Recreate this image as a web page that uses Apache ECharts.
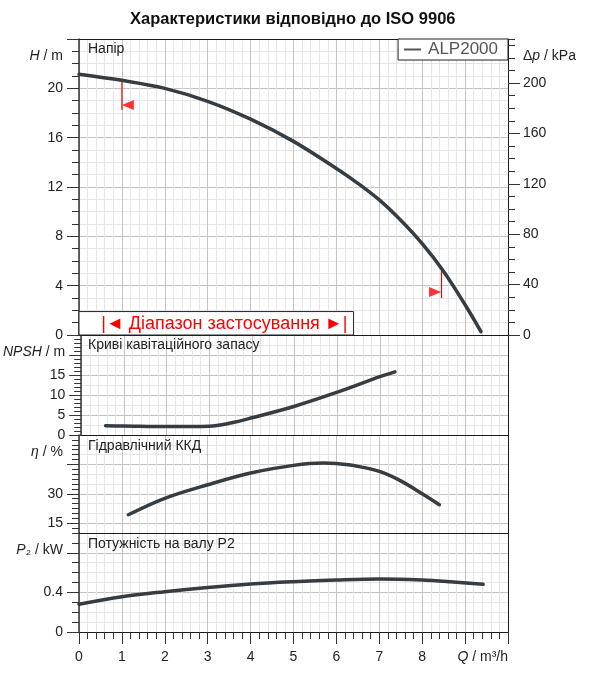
<!DOCTYPE html>
<html>
<head>
<meta charset="utf-8">
<title>ALP2000</title>
<script src="https://cdn.jsdelivr.net/npm/echarts@6.0.0/dist/echarts.min.js"></script>
<style>
    html, body { margin: 0; padding: 0; background: #fff; }
    #chart { width: 600px; height: 678px; }
</style>
</head>
<body>
<div id="chart"></div>
<script>
// Напір (H, m) по подачі Q (m3/h)
const flowH = [0, 1, 2, 3, 4, 5, 6, 6.5, 7, 7.5, 8, 8.5, 9, 9.37];
const head = [21.15, 20.65, 20.0, 18.95, 17.5, 15.7, 13.5, 12.3, 10.95, 9.3, 7.4, 5.15, 2.45, 0.27];
// NPSH, m
const flowN = [0.57, 1, 2, 3, 3.5, 4, 5, 6, 7, 7.35];
const npsh = [2.3, 2.25, 2.1, 2.2, 3.0, 4.3, 7.2, 10.7, 14.6, 15.8];
// ККД, %
const flowE = [1.15, 2, 3, 4, 5, 5.7, 6, 6.5, 7, 7.5, 8, 8.4];
const eta = [19.3, 27.7, 34.6, 40.6, 44.5, 45.7, 45.4, 44.0, 41.4, 36.6, 30.0, 24.4];
// P2, kW
const flowP = [0, 1, 2, 3, 4, 5, 6, 7, 8, 8.65, 9.42];
const power = [0.28, 0.356, 0.407, 0.45, 0.485, 0.508, 0.525, 0.535, 0.525, 0.508, 0.482];

// червоні позначки робочого діапазону на кривій напору
const markerLeft = [[1.0, 20.6], [1.0, 18.25]];
const markerRight = [[8.45, 5.2], [8.45, 3.0]];
const markerArrows = [[1.14, 18.65, 90], [8.30, 3.49, -90]];
const rangeBox = [0, 6.4];
const rangeBoxTop = 1.9;

// мітки осей
const hTicks = [0, 4, 8, 12, 16, 20, 24];
const hLabels = [0, 4, 8, 12, 16, 20];
const dpLabels = [0, 40, 80, 120, 160, 200];
const npshTicks = [0, 5, 10, 15, 20];
const npshLabels = [0, 5, 10, 15];
const etaTicks = [15, 30, 45];
const etaLabels = [15, 30];
const pTicks = [0, 0.4, 0.8];
const pLabels = [0, 0.4];
const lastQLabel = 8;

const FONT = 'Liberation Sans, Arial, sans-serif';
const GRID_MAJOR = '#c4c4c4';
const GRID_MINOR = '#e6e6e6';
const INK = '#222';
const FRAME = '#1a1a1a';
const CURVE = '#353c42';

function zip(xs, ys) {
    return xs.map((x, i) => [x, ys[i]]);
}

// вісь з дрібними рисками (і, за потреби, дрібною сіткою)
function fineAxis(grid, min, max, step, opts) {
    opts = opts || {};
    return {
        type: 'value', gridIndex: grid, min: min, max: max, interval: step,
        position: opts.position || 'left',
        axisLine: {show: opts.line !== false, lineStyle: {color: opts.position === 'right' ? FRAME : '#333', width: opts.position === 'right' ? 1 : 1.5}},
        axisTick: {show: opts.ticks !== false, length: 7, lineStyle: {color: '#333'}},
        axisLabel: {show: false},
        splitLine: {show: !!opts.grid, lineStyle: {color: GRID_MINOR, width: 1, type: 'solid'}}
    };
}

// вісь з великими рисками, підписами і назвою
function majorAxis(grid, min, max, ticks, labels, name, position, fmt) {
    const left = position === 'left';
    return {
        type: 'value', gridIndex: grid, min: min, max: max, position: position,
        axisLine: {show: false},
        axisTick: {show: true, length: 12, customValues: ticks, lineStyle: {color: '#333'}},
        axisLabel: {
            show: true, customValues: labels, margin: left ? 16 : 15,
            color: INK, fontSize: 14, fontFamily: FONT,
            formatter: fmt
        },
        splitLine: {show: left, lineStyle: {color: GRID_MAJOR, width: 1, type: 'solid'}},
        name: name,
        nameLocation: 'end',
        nameGap: -17,
        nameMoveOverlap: false,
        nameTextStyle: {
            color: INK, fontSize: 14, fontFamily: FONT,
            align: left ? 'right' : 'left', verticalAlign: 'middle',
            padding: left ? [0, 16, 0, 0] : [0, 0, 0, 15],
            rich: {i: {fontStyle: 'italic', fontSize: 14, fontFamily: FONT, color: INK}}
        }
    };
}

// права рамка панелі
function edgeAxis(grid) {
    return {
        type: 'value', gridIndex: grid, position: 'right', min: 0, max: 1,
        axisLine: {show: true, lineStyle: {color: FRAME, width: 1}},
        axisTick: {show: false}, axisLabel: {show: false}, splitLine: {show: false}
    };
}

function qAxis(grid, bottom) {
    return {
        type: 'value', gridIndex: grid, min: 0, max: 10, interval: 1, position: 'bottom',
        axisLine: {show: true, onZero: false, lineStyle: {color: FRAME, width: 1}},
        axisTick: {show: bottom, length: 12, lineStyle: {color: '#333'}},
        minorTick: {show: bottom, splitNumber: 5, length: 7, lineStyle: {color: '#333'}},
        axisLabel: {
            show: bottom, margin: 18, color: INK, fontSize: 14, fontFamily: FONT,
            formatter: v => (v <= lastQLabel ? String(v) : '')
        },
        splitLine: {show: true, lineStyle: {color: GRID_MAJOR, width: 1, type: 'solid'}},
        minorSplitLine: {show: true, lineStyle: {color: GRID_MINOR, width: 1, type: 'solid'}},
        name: bottom ? '{i|Q} / m³/h' : '',
        nameLocation: 'end',
        nameGap: 0,
        nameMoveOverlap: false,
        nameTextStyle: {
            color: INK, fontSize: 14, fontFamily: FONT,
            align: 'right', verticalAlign: 'top', padding: [18, 0, 0, 0],
            rich: {i: {fontStyle: 'italic', fontSize: 14, fontFamily: FONT, color: INK}}
        }
    };
}

function curve(name, x, y, data) {
    return {
        name: name, type: 'line', xAxisIndex: x, yAxisIndex: y,
        data: data, smooth: 0.35, symbol: 'none', silent: true,
        lineStyle: {color: CURVE, width: 3.5, cap: 'round'},
        itemStyle: {color: CURVE}, z: 5
    };
}

function redLine(data) {
    return {
        type: 'line', xAxisIndex: 0, yAxisIndex: 0, data: data,
        symbol: 'none', silent: true, z: 4,
        lineStyle: {color: '#f00', width: 1.2}
    };
}

const chart = echarts.init(document.getElementById('chart'), null, {renderer: 'canvas'});

const hSeries = curve('ALP2000', 0, 0, zip(flowH, head));
hSeries.markArea = {
    silent: true,
    itemStyle: {color: '#fff', borderColor: '#222', borderWidth: 1},
    label: {
        show: true, position: 'inside', offset: [8, 1],
        color: '#f00', fontSize: 18, fontFamily: FONT,
        formatter: '|◄ Діапазон застосування ►|'
    },
    data: [[{xAxis: rangeBox[0], yAxis: 0}, {xAxis: rangeBox[1], yAxis: rangeBoxTop}]]
};

const grids = [
    {left: 79, right: 92, top: 39, height: 296},
    {left: 79, right: 92, top: 335, height: 100},
    {left: 79, right: 92, top: 435, height: 98},
    {left: 79, right: 92, top: 533, height: 99}
].map(g => Object.assign(g, {show: false}));

const panelTitle = (text, top) => ({
    text: text, left: 88, top: top, padding: 0,
    textStyle: {color: INK, fontSize: 14, fontWeight: 'normal', fontFamily: FONT}
});

chart.setOption({
    animation: false,
    textStyle: {fontFamily: FONT},
    title: [
        {
            text: 'Характеристики відповідно до ISO 9906', left: 130, top: 11, padding: 0,
            textStyle: {color: '#111', fontSize: 16.5, fontWeight: 'bold', fontFamily: FONT}
        },
        panelTitle('Напір', 42),
        panelTitle('Криві кавітаційного запасу', 338),
        panelTitle('Гідравлічний ККД', 439),
        panelTitle('Потужність на валу P2', 537)
    ],
    legend: {
        data: ['ALP2000'], right: 92, top: 39, selectedMode: false,
        backgroundColor: '#fff', borderColor: '#222', borderWidth: 1, borderRadius: 0,
        padding: [2, 10, 2, 6], icon: 'rect', itemWidth: 17, itemHeight: 2,
        itemStyle: {color: '#555'},
        textStyle: {color: '#555', fontSize: 17, fontFamily: FONT, padding: [0, 0, 0, 2]}
    },
    grid: grids,
    xAxis: [
        qAxis(0, false), qAxis(1, false), qAxis(2, false), qAxis(3, true),
        // верхня рамка
        {
            type: 'value', gridIndex: 0, position: 'top', min: 0, max: 10,
            axisLine: {show: true, onZero: false, lineStyle: {color: FRAME, width: 1}},
            axisTick: {show: false}, axisLabel: {show: false}, splitLine: {show: false}
        }
    ],
    yAxis: [
        // 0-1: напір
        fineAxis(0, 0, 24, 1, {grid: true}),
        majorAxis(0, 0, 24, hTicks, hLabels, '{i|H} / m', 'left'),
        // 2-3: Δp
        fineAxis(0, 0, 235, 10, {position: 'right'}),
        majorAxis(0, 0, 235, dpLabels, dpLabels, 'Δ{i|p} / kPa', 'right'),
        // 4-6: NPSH
        fineAxis(1, 0, 25, 1, {}),
        fineAxis(1, 0, 25, 2.5, {grid: true, ticks: false, line: false}),
        majorAxis(1, 0, 25, npshTicks, npshLabels, '{i|NPSH} / m', 'left'),
        // 7-9: ККД
        fineAxis(2, 10, 60, 2.5, {}),
        fineAxis(2, 10, 60, 5, {grid: true, ticks: false, line: false}),
        majorAxis(2, 10, 60, etaTicks, etaLabels, '{i|η} / %', 'left'),
        // 10-11: P2
        fineAxis(3, 0, 1, 0.1, {grid: true}),
        majorAxis(3, 0, 1, pTicks, pLabels, '{i|P}₂ / kW', 'left', v => String(v)),
        // 12-14: праві рамки нижніх панелей
        edgeAxis(1), edgeAxis(2), edgeAxis(3)
    ],
    series: [
        hSeries,
        redLine(markerLeft),
        redLine(markerRight),
        {
            type: 'scatter', xAxisIndex: 0, yAxisIndex: 0, silent: true, z: 6,
            symbol: 'triangle', symbolSize: [10, 12],
            itemStyle: {color: '#f00'},
            data: markerArrows.map(m => ({value: [m[0], m[1]], symbolRotate: m[2]}))
        },
        curve('NPSH', 1, 4, zip(flowN, npsh)),
        curve('eta', 2, 7, zip(flowE, eta)),
        curve('P2', 3, 10, zip(flowP, power))
    ]
});
</script>
</body>
</html>
